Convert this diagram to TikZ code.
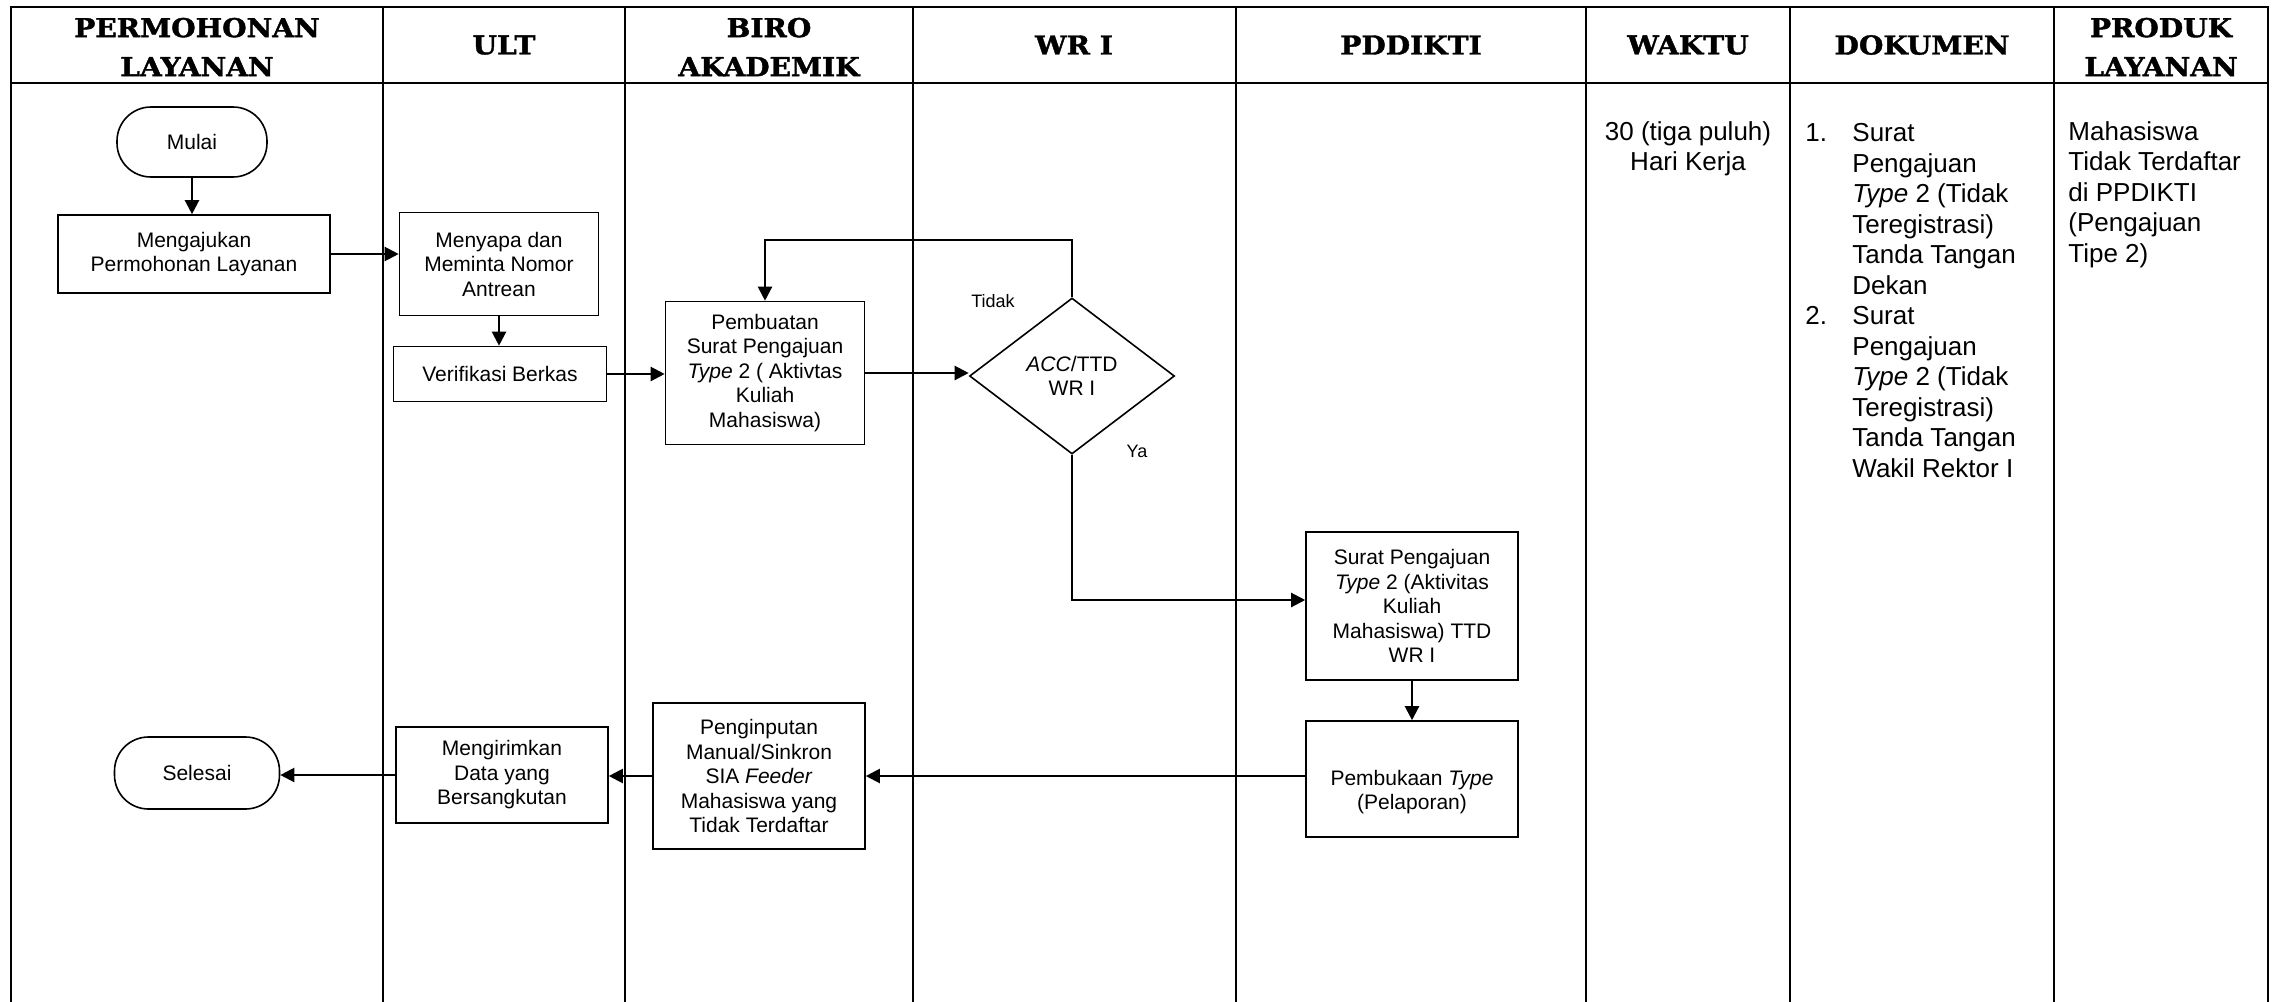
\documentclass[tikz,border=0pt]{standalone}
\usepackage{fontspec}
\setmainfont{Liberation Sans}
\newfontfamily\hdrfont[FakeStretch=1.08,FakeBold=1.5]{DejaVu Serif}
\usetikzlibrary{arrows.meta,shapes.geometric}
\begin{document}
\begin{tikzpicture}[x=0.5pt,y=-0.5pt,
  lane/.style={line width=1.35pt, line cap=rect},
  wh/.style 2 args={minimum width=#1*0.5pt, minimum height=#2*0.5pt},
  box/.style={draw, line width=0.8pt, align=center, inner sep=0pt, font=\fontsize{10.5}{12.25}\selectfont},
  term/.style={box, rounded corners=17pt},
  arr/.style={line width=1.1pt, -{Triangle[length=7pt,width=7pt]}},
  hdr/.style={font=\hdrfont\bfseries\fontsize{13}{19.5}\selectfont, align=center, inner sep=0pt},
  col/.style={font=\fontsize{13}{15.25}\selectfont, inner sep=0pt},
  lbl/.style={font=\fontsize{9}{11}\selectfont, inner sep=0pt}]
\useasboundingbox (0,0) rectangle (2273,1001);

% lanes
\draw[lane] (11,7) -- (2268,7);
\draw[lane] (11,83) -- (2268,83);
\foreach \x in {11,383,625,913,1236,1586,1790,2054,2268}
  \draw[lane] (\x,7) -- (\x,1001);

% headers
\node[hdr] (h1) at (197,47) {PERMOHONAN\\LAYANAN};
\node[hdr] (h2) at (504,45) {ULT};
\node[hdr] (h3) at (769,47) {BIRO\\AKADEMIK};
\node[hdr] (h4) at (1074,45) {WR I};
\node[hdr] (h5) at (1411,45) {PDDIKTI};
\node[hdr] (h6) at (1688,45) {WAKTU};
\node[hdr] (h7) at (1922,45) {DOKUMEN};
\node[hdr] (h8) at (2161,47) {PRODUK\\LAYANAN};

% flow nodes
\node[term, wh={150}{70}] (mulai) at (192,142) {Mulai};
\node[box, wh={272}{78}] (ajukan) at (194,254) {Mengajukan\\Permohonan Layanan};
\node[box, wh={199}{103}] (sapa) at (499,264) {Menyapa dan\\Meminta Nomor\\Antrean};
\node[box, wh={213}{55}] (verif) at (500,374) {Verifikasi Berkas};
\node[box, wh={199}{143}] (buat) at (765,373) {Pembuatan\\Surat Pengajuan\\\textit{Type} 2 ( Aktivtas\\Kuliah\\Mahasiswa)};
\node[diamond, draw, line width=0.8pt, inner sep=0pt, wh={205}{156}, align=center, font=\fontsize{10.5}{12.25}\selectfont] (acc) at (1072,376) {\textit{ACC}/TTD\\WR I};
\node[box, wh={212}{148}] (ttd) at (1412,606) {Surat Pengajuan\\\textit{Type} 2 (Aktivitas\\Kuliah\\Mahasiswa) TTD\\WR I};
\node[box, wh={212}{116}] (buka) at (1412,779) {\strut\\Pembukaan \textit{Type}\\(Pelaporan)};
\node[box, wh={212}{146}] (input) at (759,776) {Penginputan\\Manual/Sinkron\\SIA \textit{Feeder}\\Mahasiswa yang\\Tidak Terdaftar};
\node[box, wh={212}{96}] (kirim) at (502,775) {Mengirimkan\\Data yang\\Bersangkutan};
\node[term, wh={165}{72}] (selesai) at (197,773) {Selesai};

% labels
\node[lbl] (tidak) at (993,301) {Tidak};
\node[lbl] (ya) at (1137,451) {Ya};

% connectors
\draw[arr] (mulai.south) -- (mulai.south |- ajukan.north);
\draw[arr] (ajukan.east) -- (ajukan.east -| sapa.west);
\draw[arr] (sapa.south) -- (sapa.south |- verif.north);
\draw[arr] (verif.east) -- (verif.east -| buat.west);
\draw[arr] (buat.east) -- (buat.east -| acc.west);
\draw[arr] (acc.north) -- ++(0,-57) -| (buat.north);
\draw[arr] (acc.south) |- ([yshift=3pt]ttd.west);
\draw[arr] (ttd.south) -- (ttd.south |- buka.north);
\draw[arr] ([yshift=1.5pt]buka.west) -- (input.east);
\draw[arr] (input.west) -- (input.west -| kirim.east);
\draw[arr] (kirim.west) -- (kirim.west -| selesai.east);

% column texts
\node[col, anchor=north, align=center] (waktu) at (1688,121) {30 (tiga puluh)\\Hari Kerja};
\node[col, anchor=north west] (dok) at (1805,120) {\fontsize{13}{15.25}\selectfont
\begin{tabular}{@{}p{23.5pt}@{}l@{}}
1. & Surat\\
   & Pengajuan\\
   & \textit{Type} 2 (Tidak\\
   & Teregistrasi)\\
   & Tanda Tangan\\
   & Dekan\\
2. & Surat\\
   & Pengajuan\\
   & \textit{Type} 2 (Tidak\\
   & Teregistrasi)\\
   & Tanda Tangan\\
   & Wakil Rektor I
\end{tabular}};
\node[col, anchor=north west, align=left] (prod) at (2068,121) {Mahasiswa\\Tidak Terdaftar\\di PPDIKTI\\(Pengajuan\\Tipe 2)};
\end{tikzpicture}
\end{document}
